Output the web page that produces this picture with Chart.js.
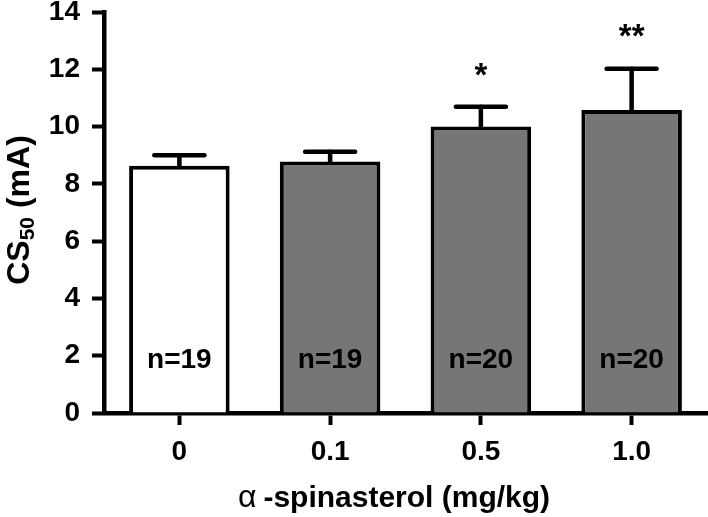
<!DOCTYPE html>
<html><head><meta charset="utf-8">
<script src="https://cdn.jsdelivr.net/npm/chart.js@4.4.1/dist/chart.umd.min.js"></script>
<style>html,body{margin:0;padding:0;background:#fff}</style>
</head><body>
<canvas id="c" width="708" height="517"></canvas>
<script>
// ---- data ----
const categories = ['0', '0.1', '0.5', '1.0'];
const meanValues = [8.63, 8.78, 10.0, 10.58];
const semValues = [0.37, 0.34, 0.69, 1.44];
const sampleSizes = ['n=19', 'n=19', 'n=20', 'n=20'];
const significance = ['', '', '*', '**'];
const yTickValues = [0, 2, 4, 6, 8, 10, 12, 14];
const barColors = ['#ffffff', '#767676', '#767676', '#767676'];

const FONT = "'Liberation Sans', Arial, sans-serif";

const annotate = {
  id: 'annotate',
  afterDatasetsDraw(chart) {
    const ctx = chart.ctx;
    const x = chart.scales.x, y = chart.scales.y;
    ctx.save();
    // error bars
    ctx.strokeStyle = '#000';
    ctx.lineWidth = 4.5;
    ctx.lineCap = 'round';
    meanValues.forEach((m, i) => {
      const cx = x.getPixelForValue(i);
      const yTop = y.getPixelForValue(m);
      const yErr = y.getPixelForValue(m + semValues[i]);
      ctx.beginPath();
      ctx.moveTo(cx, yTop);
      ctx.lineTo(cx, yErr);
      ctx.stroke();
      ctx.beginPath();
      ctx.moveTo(cx - 25, yErr);
      ctx.lineTo(cx + 25, yErr);
      ctx.stroke();
    });
    // n labels
    ctx.fillStyle = '#000';
    ctx.textAlign = 'center';
    ctx.textBaseline = 'middle';
    ctx.font = 'bold 28px ' + FONT;
    sampleSizes.forEach((s, i) => {
      ctx.fillText(s, x.getPixelForValue(i), y.getPixelForValue(1.87) + 1);
    });
    // significance stars
    ctx.font = 'bold 33px ' + FONT;
    ctx.textBaseline = 'alphabetic';
    significance.forEach((s, i) => {
      if (!s) return;
      const v = meanValues[i] + semValues[i] + 1.23;
      ctx.fillText(s, x.getPixelForValue(i), y.getPixelForValue(v) + 14);
    });
    // y title (rotated) CS50 (mA)
    ctx.save();
    ctx.translate(29, 210);
    ctx.rotate(-Math.PI / 2);
    ctx.textAlign = 'left';
    const big = 'bold 32px ' + FONT, small = 'bold 21px ' + FONT;
    ctx.font = big; const w1 = ctx.measureText('CS').width;
    ctx.font = small; const w2 = ctx.measureText('50').width;
    ctx.font = big; const w3 = ctx.measureText(' (mA)').width;
    let sx = -(w1 + w2 + w3) / 2;
    ctx.font = big; ctx.fillText('CS', sx, 0); sx += w1;
    ctx.font = small; ctx.fillText('50', sx, 5); sx += w2;
    ctx.font = big; ctx.fillText(' (mA)', sx, 0);
    ctx.restore();
    // x title
    const alpha = 'α', rest = '-spinasterol (mg/kg)';
    ctx.textAlign = 'left';
    ctx.font = '32px ' + FONT; const wa = ctx.measureText(alpha).width;
    ctx.font = 'bold 30px ' + FONT; const wr = ctx.measureText(rest).width;
    const gap = 7;
    let tx = 394 - (wa + gap + wr) / 2;
    ctx.font = '32px ' + FONT; ctx.fillText(alpha, tx, 507);
    ctx.font = 'bold 30px ' + FONT; ctx.fillText(rest, tx + wa + gap, 507);
    ctx.restore();
  }
};

new Chart(document.getElementById('c'), {
  type: 'bar',
  data: {
    labels: categories,
    datasets: [{
      data: meanValues,
      backgroundColor: barColors,
      borderColor: '#000',
      borderWidth: 4,
      borderSkipped: 'start',
      barPercentage: 0.667,
      categoryPercentage: 1.0
    }]
  },
  options: {
    responsive: false,
    animation: false,
    devicePixelRatio: 1,
    layout: { padding: { top: 12, right: 1, bottom: 0, left: 0 } },
    plugins: { legend: { display: false }, tooltip: { enabled: false } },
    scales: {
      x: {
        offset: true,
        border: { display: true, color: '#000', width: 4.5 },
        grid: { display: true, drawOnChartArea: false, drawTicks: true, tickLength: 12, tickWidth: 4, tickColor: '#000', offset: false },
        ticks: { color: '#000', padding: 10, font: { family: FONT, size: 28, weight: 'bold' } },
        afterFit(s) { s.height = 104; s.paddingLeft = 0; s.paddingRight = 0; }
      },
      y: {
        min: 0, max: 14,
        afterBuildTicks(s) { s.ticks = yTickValues.map(v => ({ value: v })); },
        border: { display: true, color: '#000', width: 4.5 },
        grid: { display: true, drawOnChartArea: false, drawTicks: true, tickLength: 12, tickWidth: 4, tickColor: '#000' },
        ticks: { color: '#000', padding: 12, font: { family: FONT, size: 28, weight: 'bold', lineHeight: 0.8 } },
        afterFit(s) { s.width = 104; s.paddingTop = 0; s.paddingBottom = 0; }
      }
    }
  },
  plugins: [annotate]
});
</script>
</body></html>
